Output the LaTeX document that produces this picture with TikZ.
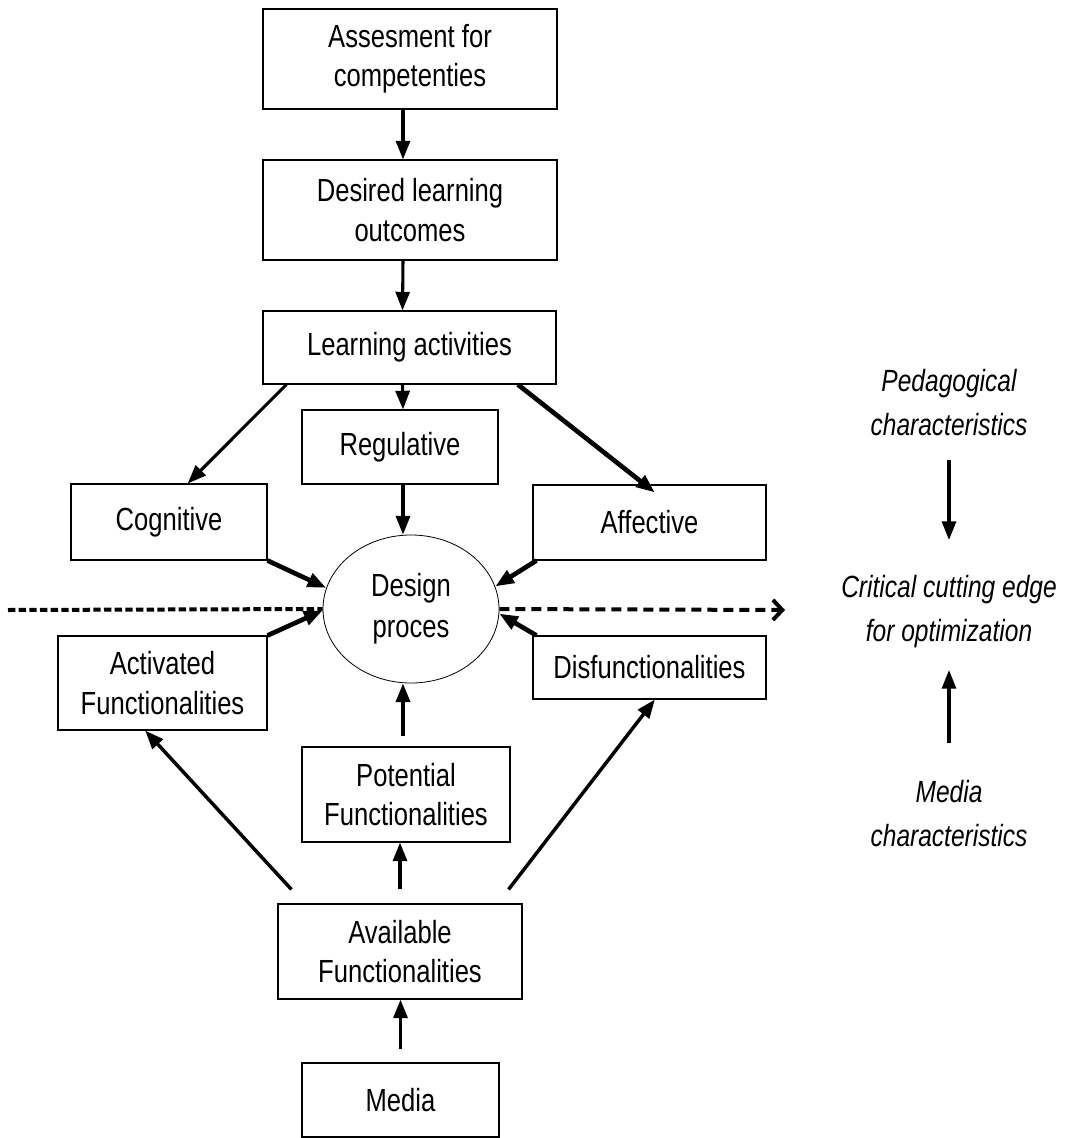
\documentclass[tikz,border=0pt]{standalone}
\usepackage{fontspec}
\setmainfont{Liberation Sans}[FakeStretch=0.8]
\usetikzlibrary{arrows.meta,calc,positioning,shapes.geometric}

\begin{document}
\begin{tikzpicture}[x=0.75pt,y=-0.75pt,every node/.style={font=\fontsize{24}{29.5}\selectfont},
  box/.style={draw,line width=0.8pt,inner sep=0pt,align=center},
  note/.style={inner sep=0pt,align=center,font=\fontsize{23}{33}\selectfont\itshape},
  arr/.style={-{Triangle[length=14pt,width=10.5pt]},line width=2.3pt},
  thk/.style={arr,line width=3.5pt}]
  \useasboundingbox (0,0) rectangle (1070,1138);
  % boxes: name/x/y/width/height/text
  \foreach \n/\x/\y/\w/\h/\t in {ass/410/59/294/100/{Assesment for\\competenties},des/410/210/294/100/{Desired learning\\outcomes},
    la/409.5/347.5/293/73/{Learning activities},reg/400/447/196/74/{Regulative},cog/169/522/196/76/{Cognitive},
    aff/649.5/522.5/233/75/{Affective},act/162.5/683/209/94/{Activated\\Functionalities},dis/649.5/667.5/233/63/{Disfunctionalities},
    pot/406/794.5/208/95/{Potential\\Functionalities},ava/400/951.5/244/95/{Available\\Functionalities},med/400.5/1100/197/74/{Media}}{
    \node[box,minimum width=\w*0.75pt,minimum height=\h*0.75pt] (\n) at (\x,\y) {\t};
  }
  \node[ellipse,draw,line width=0.6pt,inner sep=0pt,align=center,minimum width=176*0.75pt,minimum height=148*0.75pt,
    font=\fontsize{24}{31}\selectfont] (dp) at (411,609) {Design\\proces};
  \node[note] (ped) at (949,403) {Pedagogical\\characteristics};
  \node[note] (crit) at (949,612) {Critical cutting edge\\for optimization};
  \node[note] (mch) at (949,814) {Media\\characteristics};
  \coordinate (dl) at (8,610);
  \coordinate (dr) at (785,610);

  % top chain
  \draw[arr] ([xshift=-5.25pt]ass.south) -- ([xshift=-5.25pt]des.north);
  \draw[arr] ([xshift=-5.25pt]des.south) -- ([xshift=-5.25pt]la.north);
  \draw[arr] ([xshift=-5.25pt]la.south) -- ([xshift=2.25pt]reg.north);
  \draw[arr] ([xshift=18pt]la.south west) -- ([xshift=14pt]cog.north);
  \draw[thk] ([xshift=-29pt]la.south east) -- ([xshift=4pt,yshift=-6pt]aff.north);
  % into the design process
  \draw[arr] ([xshift=2.25pt]reg.south) -- ([xshift=-6pt]dp.north);
  \draw[thk] (cog.south east) -- (dp.166);
  \draw[thk] ([xshift=3pt]aff.south west) -- (dp.15);
  \draw[thk] (act.north east) -- (dp.181);
  \draw[thk] ([xshift=3pt]dis.north west) -- (dp.357);
  \draw[arr,line width=2.6pt] ([xshift=-2.25pt,yshift=7.5pt]pot.north) -- ([xshift=-6pt]dp.south);
  % functionalities
  \draw[arr,line width=2.6pt] ([xshift=10.5pt,yshift=10.5pt]ava.north west) -- ([xshift=-13pt]act.south);
  \draw[arr,line width=2.6pt] ([yshift=10.5pt]ava.north) -- (pot.south -| ava.north);
  \draw[arr,line width=2.6pt] ([xshift=-10.5pt,yshift=10.5pt]ava.north east) -- ([xshift=4pt]dis.south);
  \draw[arr,line width=2.6pt] ([yshift=10pt]med.north) -- (ava.south -| med.north);
  % cutting edge
  \draw[line width=3pt,dash pattern=on 5.5pt off 2.5pt] (dl) -- (dp.west);
  \draw[-{Straight Barb[length=7pt,width=15pt]},line width=3pt,dash pattern=on 7.5pt off 4.5pt] (dp.east) -- (dr);
  \draw[arr] ([yshift=-43pt]ped.center) -- ([yshift=54pt]crit.center);
  \draw[arr] ([yshift=53pt]mch.center) -- ([yshift=-43.5pt]crit.center);
\end{tikzpicture}
\end{document}
